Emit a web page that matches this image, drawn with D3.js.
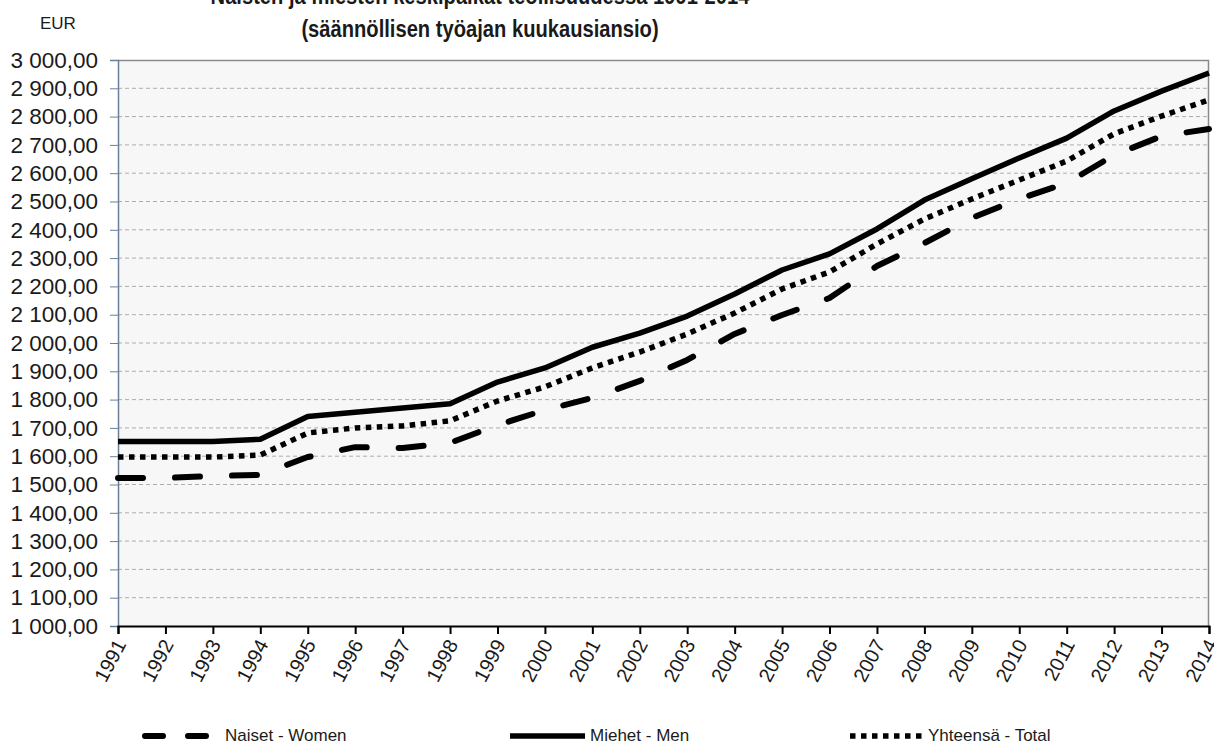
<!DOCTYPE html>
<html>
<head>
<meta charset="utf-8">
<script src="https://cdn.jsdelivr.net/npm/d3@7"></script>
<style>
  body { margin: 0; background: #fff; }
  svg { display: block; font-family: "Liberation Sans", Arial, sans-serif; }
</style>
</head>
<body>
<svg id="chart" width="1214" height="746"></svg>
<script>
var years = [1991, 1992, 1993, 1994, 1995, 1996, 1997, 1998, 1999, 2000, 2001, 2002,
  2003, 2004, 2005, 2006, 2007, 2008, 2009, 2010, 2011, 2012, 2013, 2014];

var naiset = [1523, 1523, 1530, 1534, 1597, 1632, 1629, 1647, 1710, 1763, 1806, 1866,
  1940, 2032, 2099, 2159, 2272, 2353, 2442, 2509, 2565, 2664, 2731, 2756];

var miehet = [1652, 1652, 1652, 1660, 1740, 1755, 1770, 1785, 1862, 1912, 1985, 2035,
  2095, 2173, 2258, 2315, 2403, 2505, 2580, 2654, 2724, 2820, 2890, 2954];

var yhteensa = [1597, 1597, 1597, 1604, 1682, 1700, 1707, 1725, 1795, 1845, 1912, 1968,
  2032, 2106, 2191, 2251, 2350, 2438, 2509, 2576, 2643, 2739, 2802, 2859];

var yTicks = d3.range(1000, 3001, 100);

var titleLines = ["Naisten ja miesten keskipalkat teollisuudessa 1991-2014",
  "(säännöllisen työajan kuukausiansio)"];

var seriesNames = ["Naiset - Women", "Miehet - Men", "Yhteensä - Total"];

var svg = d3.select("#chart"),
    margin = {top: 60, right: 5, bottom: 120, left: 118},
    width = +svg.attr("width") - margin.left - margin.right,
    height = +svg.attr("height") - margin.top - margin.bottom,
    g = svg.append("g").attr("transform", "translate(" + margin.left + "," + margin.top + ")");

var x = d3.scaleLinear().domain([1991, 2014]).range([0, width]),
    y = d3.scaleLinear().domain([1000, 3000]).range([height, 0]);

function fmt(v) {
  var s = String(v);
  if (s.length > 3) s = s.slice(0, s.length - 3) + " " + s.slice(s.length - 3);
  return s + ",00";
}

// plot background
g.append("rect")
  .attr("width", width).attr("height", height)
  .attr("fill", "#f7f7f7");

// gridlines
g.append("g")
  .selectAll("line")
  .data(yTicks.filter(function (d) { return d > 1000 && d < 3000; }))
  .enter().append("line")
    .attr("x1", 0).attr("x2", width)
    .attr("y1", function (d) { return y(d); })
    .attr("y2", function (d) { return y(d); })
    .attr("stroke", "#adadad")
    .attr("stroke-width", 1)
    .attr("stroke-dasharray", "4,3");

// top and right frame
g.append("path")
  .attr("d", "M0,0.5H" + (width - 0.5) + "V" + height)
  .attr("fill", "none")
  .attr("stroke", "#8a8a8a")
  .attr("stroke-width", 1.5);

// y axis
var yAxis = g.append("g")
  .call(d3.axisLeft(y).tickValues(yTicks).tickSize(8).tickPadding(12).tickFormat(fmt));
yAxis.select(".domain").attr("stroke", "#6a8098").attr("stroke-width", 1.5);
yAxis.selectAll(".tick line").attr("stroke", "#6a8098");
yAxis.selectAll("text")
  .attr("font-size", "22.5px")
  .attr("fill", "#1a1a1a")
  .style("font-family", "'Liberation Sans', Arial, sans-serif");

// x axis
var xAxis = g.append("g")
  .attr("transform", "translate(0," + height + ")")
  .call(d3.axisBottom(x).tickValues(years).tickSize(8).tickFormat(d3.format("d")));
xAxis.select(".domain").attr("stroke", "#000").attr("stroke-width", 2);
xAxis.selectAll(".tick line").attr("stroke", "#000").attr("stroke-width", 2);
xAxis.selectAll("text")
  .attr("font-size", "20px")
  .attr("fill", "#1a1a1a")
  .style("font-family", "'Liberation Sans', Arial, sans-serif")
  .attr("text-anchor", "end")
  .attr("dy", "0.35em")
  .attr("y", 0)
  .attr("transform", "translate(2,15) rotate(-62)");

// lines
var line = d3.line()
  .x(function (d, i) { return x(years[i]); })
  .y(function (d) { return y(d); });

var series = [
  {name: seriesNames[0], values: naiset, dash: "25,32", cap: "round", w: 6},
  {name: seriesNames[1], values: miehet, dash: null, cap: "butt", w: 5.5},
  {name: seriesNames[2], values: yhteensa, dash: "5.5,5.5", cap: "butt", w: 5.5}
];

g.selectAll(".serie")
  .data(series)
  .enter().append("path")
    .attr("class", "serie")
    .attr("d", function (d) { return line(d.values); })
    .attr("fill", "none")
    .attr("stroke", "#000")
    .attr("stroke-width", function (d) { return d.w; })
    .attr("stroke-linecap", function (d) { return d.cap; })
    .attr("stroke-linejoin", "round")
    .attr("stroke-dasharray", function (d) { return d.dash; });

// title (narrow bold face, squeezed horizontally)
svg.append("text")
  .attr("transform", "translate(480,4) scale(0.84,1)")
  .attr("text-anchor", "middle")
  .attr("font-size", "24px").attr("font-weight", "bold")
  .attr("fill", "#1a1a1a")
  .text(titleLines[0]);
svg.append("text")
  .attr("transform", "translate(480,37) scale(0.84,1)")
  .attr("text-anchor", "middle")
  .attr("font-size", "24px").attr("font-weight", "bold")
  .attr("fill", "#1a1a1a")
  .text(titleLines[1]);

svg.append("text")
  .attr("x", 40).attr("y", 29)
  .attr("font-size", "17px")
  .attr("fill", "#1a1a1a")
  .text("EUR");

// legend
var legendPos = [
  {x1: 145, x2: 212, tx: 225},
  {x1: 510, x2: 585, tx: 590},
  {x1: 850, x2: 923, tx: 928}
];
var legend = svg.selectAll(".legend")
  .data(series)
  .enter().append("g")
    .attr("class", "legend");
legend.append("line")
  .attr("x1", function (d, i) { return legendPos[i].x1; })
  .attr("x2", function (d, i) { return legendPos[i].x2; })
  .attr("y1", 736).attr("y2", 736)
  .attr("stroke", "#000")
  .attr("stroke-width", function (d) { return d.w; })
  .attr("stroke-linecap", function (d) { return d.cap; })
  .attr("stroke-dasharray", function (d, i) { return i === 0 ? "18,25" : d.dash; });
legend.append("text")
  .attr("x", function (d, i) { return legendPos[i].tx; })
  .attr("y", 741)
  .attr("font-size", "17px")
  .attr("fill", "#1a1a1a")
  .text(function (d) { return d.name; });
</script>
</body>
</html>
